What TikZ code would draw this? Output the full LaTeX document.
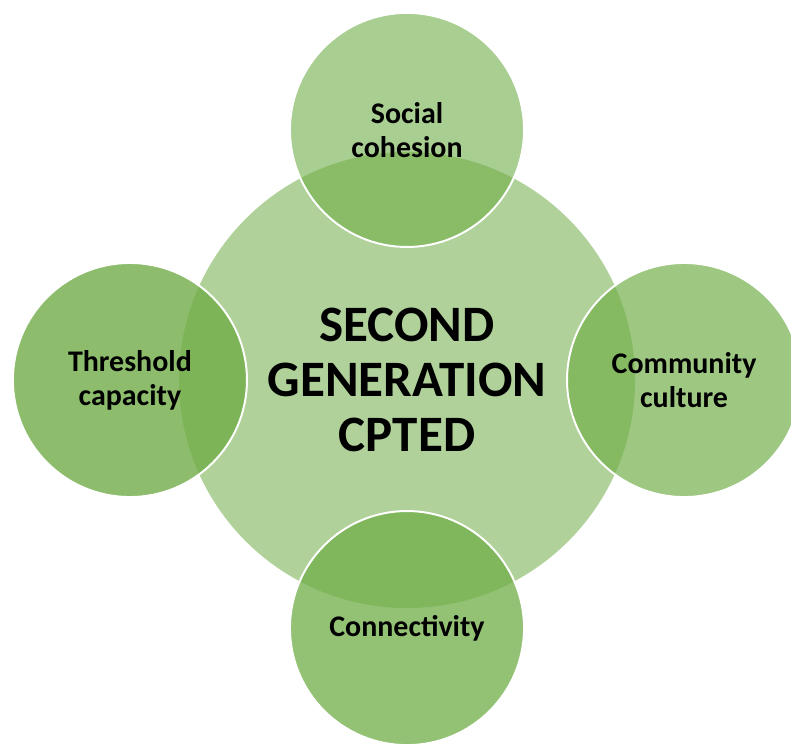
\documentclass[tikz,border=0pt]{standalone}
\usepackage{fontspec}
\setmainfont{Carlito}
\usepackage{tikz}
\usetikzlibrary{shapes,positioning}
\definecolor{cptedGreen}{RGB}{112,173,71}
\tikzstyle{hub} = [circle, fill=cptedGreen, fill opacity=0.55, text opacity=1,
    minimum size=11.4cm, inner sep=0pt, align=center,
    font=\bfseries\fontsize{36.3}{39}\selectfont]
\tikzstyle{factor} = [circle, draw=white, line width=1.4pt, fill=cptedGreen,
    draw opacity=1, text opacity=1, minimum size=5.85cm, inner sep=0pt,
    align=center, font=\bfseries\fontsize{21.3}{24.2}\selectfont]

\begin{document}
\begin{tikzpicture}[x=0.025cm, y=-0.025cm]
    \useasboundingbox (0,0) rectangle (791,745);
    % Place nodes
    \node[hub] (cpted) at (407,380) {SECOND\\GENERATION\\CPTED};
    \node[factor, fill opacity=0.6, above of=cpted, node distance=6.25cm] (cohesion) {Social\\cohesion};
    \node[factor, fill opacity=0.8, left of=cpted, node distance=6.925cm] (threshold) {Threshold\\capacity};
    \node[factor, fill opacity=0.68, right of=cpted, node distance=6.925cm] (culture) {Community\\culture};
    \node[factor, fill opacity=0.75, below of=cpted, node distance=6.2cm] (connectivity) {Connectivity};
\end{tikzpicture}
\end{document}
